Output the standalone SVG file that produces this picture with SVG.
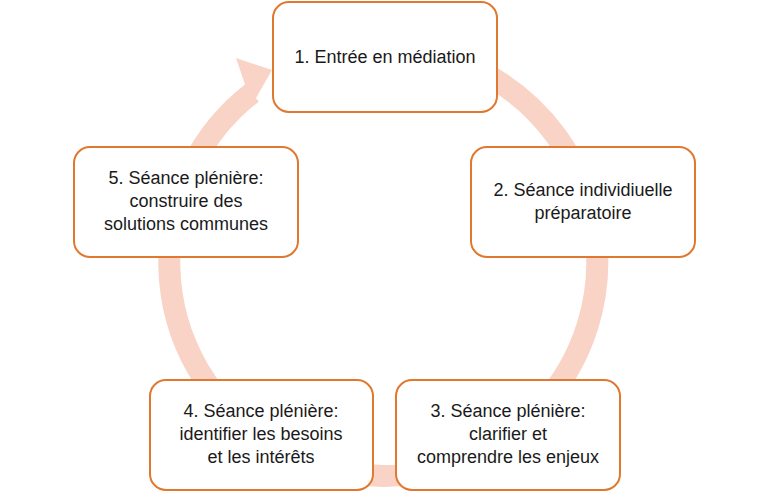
<svg xmlns="http://www.w3.org/2000/svg" width="768" height="493" viewBox="0 0 768 493">
<style>
.n rect{fill:#fff;stroke:#E0782F;stroke-width:2}
.n text{font-family:"Liberation Sans",Arial,sans-serif;font-size:18px;fill:#1a1a1a;text-anchor:middle}
</style>
<rect width="768" height="493" fill="#fff"/>
<g id="connectors">
<path d="M 384 48 A 214 214 0 1 1 252 93" fill="none" stroke="#F8D3C6" stroke-width="22"/>
<polygon points="272,70 236,58 252,105" fill="#F8D3C6"/>
</g>
<g id="n1" class="n"><rect x="273" y="2" width="224" height="110" rx="16"/><text x="385" y="63">1. Entrée en médiation</text></g>
<g id="n2" class="n"><rect x="471" y="147" width="224" height="110" rx="16"/><text x="583" y="196">2. Séance individiuelle</text><text x="583" y="219">préparatoire</text></g>
<g id="n3" class="n"><rect x="396" y="380" width="224" height="110" rx="16"/><text x="508" y="417">3. Séance plénière:</text><text x="508" y="440">clarifier et</text><text x="508" y="463">comprendre les enjeux</text></g>
<g id="n4" class="n"><rect x="150" y="380" width="223" height="110" rx="16"/><text x="261" y="417">4. Séance plénière:</text><text x="261" y="440">identifier les besoins</text><text x="261" y="463">et les intérêts</text></g>
<g id="n5" class="n"><rect x="74" y="147" width="224" height="110" rx="16"/><text x="186" y="184">5. Séance plénière:</text><text x="186" y="207">construire des</text><text x="186" y="230">solutions communes</text></g>
</svg>
